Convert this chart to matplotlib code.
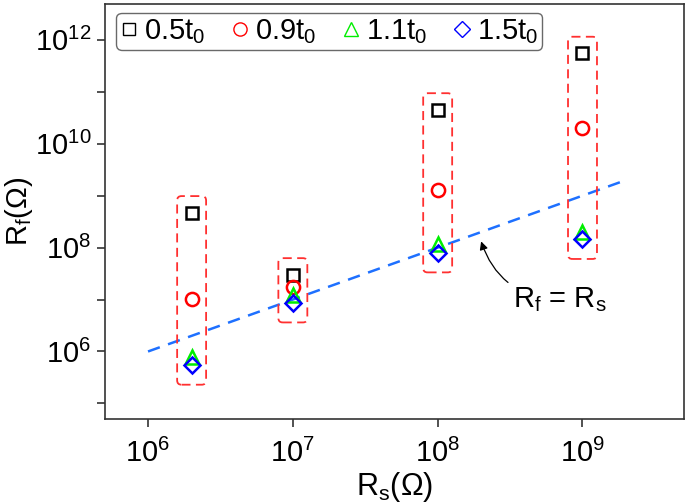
import matplotlib
matplotlib.use('Agg')
import matplotlib.pyplot as plt
from matplotlib.patches import FancyBboxPatch
from matplotlib.lines import Line2D
from matplotlib.ticker import NullFormatter
import numpy as np

plt.rcParams['font.family'] = ['Liberation Sans', 'DejaVu Sans']
plt.rcParams['mathtext.fontset'] = 'custom'
plt.rcParams['mathtext.rm'] = 'Liberation Sans'
plt.rcParams['mathtext.it'] = 'Liberation Sans'

# series values
rs = [2e6, 1e7, 1e8, 1e9]
rf_05 = [4.7e8, 3.0e7, 4.5e10, 5.5e11]
rf_09 = [1.04e7, 1.74e7, 1.27e9, 2.0e10]
rf_11 = [8.0e5, 1.2e7, 1.2e8, 2.0e8]
rf_15 = [5.5e5, 8.7e6, 8.0e7, 1.45e8]
line_x = [1e6, 2e9]
labels = [r'0.5t$_\mathregular{0}$', r'0.9t$_\mathregular{0}$',
          r'1.1t$_\mathregular{0}$', r'1.5t$_\mathregular{0}$']

fig = plt.figure(figsize=(6.88, 5.03), dpi=100)
ax = fig.add_axes([0.152, 0.167, 0.842, 0.826])
ax.set_xscale('log')
ax.set_yscale('log')
xlim = (10**5.7, 10**9.7)
ylim = (10**4.7, 10**12.7)

ax.plot(line_x, line_x, '--', color='#1E70FF', lw=1.8, dashes=(5, 3.5), zorder=2)

series = [(rf_05, 's', 'black', 8.5), (rf_09, 'o', 'red', 9.5),
          (rf_11, '^', '#00EE00', 9.5), (rf_15, 'D', 'blue', 8)]
handles = []
for (vals, m, c, ms), lab in zip(series, labels):
    ax.plot(rs, vals, ls='none', marker=m, mfc='none', mec=c, ms=ms, mew=1.8, zorder=3)
    handles.append(Line2D([], [], ls='none', marker=m, mfc='none', mec=c, ms=ms, mew=1.0, label=lab))

ax.set_xlim(*xlim)
ax.set_ylim(*ylim)
ax.set_xticks([1e6, 1e7, 1e8, 1e9])
ax.set_xticklabels([r'$\mathregular{10^{%d}}$' % k for k in range(6, 10)])
ax.set_yticks([1e6, 1e8, 1e10, 1e12])
ax.set_yticklabels([r'$\mathregular{10^{%d}}$' % k for k in (6, 8, 10, 12)])
ax.set_yticks([1e5, 1e7, 1e9, 1e11], minor=True)
ax.set_xticks([], minor=True)
ax.yaxis.set_minor_formatter(NullFormatter())
ax.xaxis.set_minor_formatter(NullFormatter())
ax.tick_params(which='both', direction='out', length=6, width=1.2, labelsize=21, color='#333333')
ax.tick_params(axis='x', pad=8)
for s in ax.spines.values():
    s.set_linewidth(1.2)
    s.set_color('#333333')

ax.set_xlabel(r'R$_\mathregular{s}$($\Omega$)', fontsize=22, labelpad=2)
ax.set_ylabel(r'R$_\mathregular{f}$($\Omega$)', fontsize=21)
ax.yaxis.set_label_coords(-0.12, 0.5)

# red dashed boxes around each group, in log10 units on an overlay axes
ov = fig.add_axes(ax.get_position(), facecolor='none')
ov.set_xlim(np.log10(xlim[0]), np.log10(xlim[1]))
ov.set_ylim(np.log10(ylim[0]), np.log10(ylim[1]))
ov.axis('off')
groups = np.log10(np.array([rf_05, rf_09, rf_11, rf_15]))
for i, x in enumerate(np.log10(rs)):
    top = groups[:, i].max() + 0.32
    bot = groups[:, i].min() - 0.38
    w = 0.2
    box = FancyBboxPatch((x - w / 2, bot), w, top - bot,
                         boxstyle='round,pad=0,rounding_size=0.03',
                         mutation_aspect=2.8, fill=False, ec='#FF3030',
                         lw=1.3, ls=(0, (5, 3)), zorder=1)
    ov.add_patch(box)

ax.annotate(r'R$_\mathregular{f}$ = R$_\mathregular{s}$', xy=(10**8.3, 10**8.12),
            xytext=(10**8.52, 10**7.0), fontsize=21, va='center', ha='left',
            arrowprops=dict(arrowstyle='-|>', color='black', lw=0.9,
                            connectionstyle='arc3,rad=-0.35', shrinkA=2, shrinkB=0,
                            mutation_scale=12))

leg = ax.legend(handles=handles, ncol=4, loc='upper left', bbox_to_anchor=(0.02, 0.978),
                fontsize=21, frameon=True, fancybox=True, handlelength=0.6,
                handletextpad=0.2, columnspacing=0.9, borderpad=0.15, borderaxespad=0)
leg.get_frame().set_edgecolor('#444444')
leg.get_frame().set_linewidth(1.0)

fig.savefig('out.png', dpi=100)
